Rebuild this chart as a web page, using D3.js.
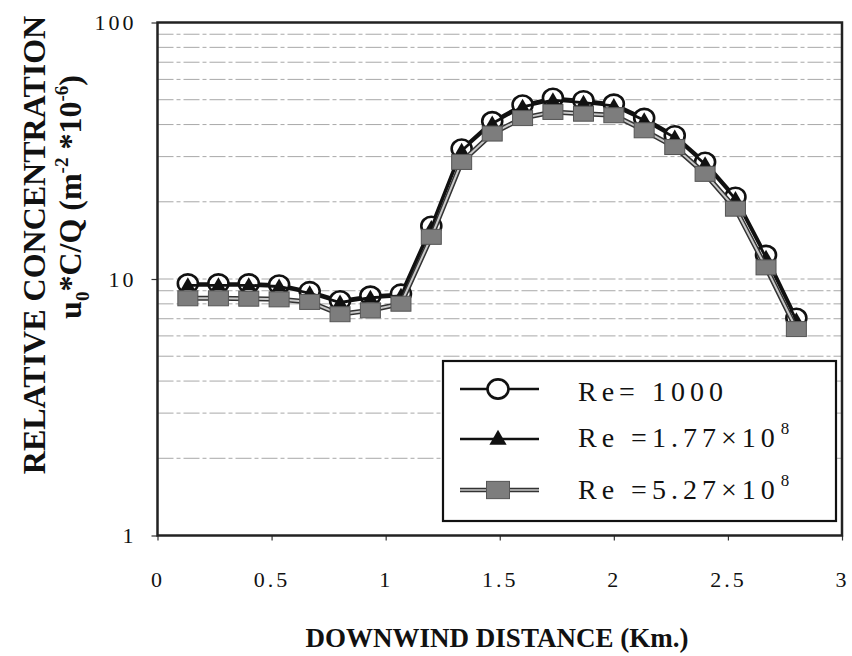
<!DOCTYPE html>
<html>
<head>
<meta charset="utf-8">
<script src="https://cdn.jsdelivr.net/npm/d3@7"></script>
<style>
  html, body { margin: 0; padding: 0; background: #fff; }
  svg { display: block; }
  text { font-family: "Liberation Serif", "Times New Roman", serif; fill: #111; }
</style>
</head>
<body>
<svg id="chart" width="852" height="656"></svg>
<script>
// ---------------- DATA ----------------
const distances = [0.133,0.267,0.4,0.533,0.667,0.8,0.933,1.067,1.2,1.333,1.467,1.6,1.733,1.867,2.0,2.133,2.267,2.4,2.533,2.667,2.8];
const re1000   = [9.6,9.6,9.6,9.5,8.95,8.25,8.6,8.75,16.1,32.2,41.2,47.8,50.8,49.7,48.2,42.4,36.3,28.6,20.9,12.4,7.05];
const re177e8  = [9.45,9.45,9.45,9.35,8.8,8.1,8.45,8.6,15.8,31.6,40.4,46.9,49.8,48.7,47.3,41.6,35.6,28.0,20.5,12.1,6.9];
const re527e8  = [8.41,8.41,8.38,8.33,8.14,7.29,7.55,8.01,14.6,28.6,36.9,42.4,44.8,44.1,43.5,38.0,32.7,25.7,18.8,11.1,6.38];
const xTicks = [0,0.5,1,1.5,2,2.5,3];
const xTickLabels = ["0","0.5","1","1.5","2","2.5","3"];
const yTicks = [1,10,100];
const yTickLabels = ["1","10","100"];
const gridValues = [2,3,4,5,6,7,8,9,10,20,30,40,50,60,70,80,90];
const legendLabels = [
  {pre:"Re= 1000", sup:""},
  {pre:"Re =1.77\u00d710", sup:"8"},
  {pre:"Re =5.27\u00d710", sup:"8"}
];

// ---------------- LAYOUT ----------------
const svg = d3.select("#chart");
const L = 157.5, R = 842, T = 22.5, B = 535.5;
const x = d3.scaleLinear().domain([0,3]).range([L,R]);
const y = d3.scaleLog().domain([1,100]).range([B,T]);

// grid
svg.append("g").selectAll("line").data(gridValues).join("line")
  .attr("x1", L).attr("x2", R)
  .attr("y1", d => y(d)).attr("y2", d => y(d))
  .attr("stroke", "#a8a8a8").attr("stroke-width", 1)
  .attr("stroke-dasharray", "16,3,4,3");

// axes
const xAxis = d3.axisBottom(x).tickValues(xTicks)
  .tickFormat((d,i) => xTickLabels[i]).tickSize(5).tickPadding(31);
const gx = svg.append("g").attr("transform", `translate(0,${B})`).call(xAxis);
gx.select(".domain").remove();
gx.selectAll("line").attr("stroke", "#333").attr("stroke-width", 1.2);
gx.selectAll("text").attr("font-size", 22).attr("letter-spacing", "3px").attr("fill", "#111");

const yAxis = d3.axisLeft(y).tickValues(yTicks)
  .tickFormat((d,i) => yTickLabels[i]).tickSize(6).tickPadding(15);
const gy = svg.append("g").attr("transform", `translate(${L},0)`).call(yAxis);
gy.select(".domain").remove();
gy.selectAll("line").attr("stroke", "#333").attr("stroke-width", 1.2);
gy.selectAll("text").attr("font-size", 22).attr("letter-spacing", "3px").attr("fill", "#111");

// frame
svg.append("rect").attr("x", L).attr("y", T).attr("width", R-L).attr("height", B-T)
  .attr("fill", "none").attr("stroke", "#222").attr("stroke-width", 2.5);

// series
const series = [
  {vals: re1000, kind: "circle"},
  {vals: re177e8, kind: "triangle"},
  {vals: re527e8, kind: "square"}
];
const line = d3.line().x(d => x(d[0])).y(d => y(d[1]));
const triPath = "M0,-8L7.5,5L-7.5,5Z";

function drawMarker(g, kind, cx, cy, scale) {
  scale = scale || 1;
  if (kind === "circle") {
    g.append("ellipse").attr("cx", cx).attr("cy", cy).attr("rx", 10*scale).attr("ry", 9.2*scale)
      .attr("fill", "#fff").attr("stroke", "#111").attr("stroke-width", 2.6);
  } else if (kind === "triangle") {
    g.append("path").attr("d", triPath)
      .attr("transform", `translate(${cx},${cy}) scale(${scale})`)
      .attr("fill", "#111");
  } else {
    g.append("rect").attr("x", cx-10*scale).attr("y", cy-7.5*scale)
      .attr("width", 20*scale).attr("height", 15*scale)
      .attr("fill", "#7d7d7d").attr("stroke", "#555").attr("stroke-width", 1);
  }
}

series.forEach(s => {
  const pts = distances.map((d,i) => [d, s.vals[i]]);
  const g = svg.append("g");
  if (s.kind === "square") {
    g.append("path").attr("d", line(pts)).attr("fill", "none")
      .attr("stroke", "#333").attr("stroke-width", 5);
    g.append("path").attr("d", line(pts)).attr("fill", "none")
      .attr("stroke", "#c8c8c8").attr("stroke-width", 2);
  } else {
    g.append("path").attr("d", line(pts)).attr("fill", "none")
      .attr("stroke", "#111").attr("stroke-width", 2.8);
  }
  pts.forEach(p => drawMarker(g, s.kind, x(p[0]), y(p[1])));
});

// legend
const lg = svg.append("g");
lg.append("rect").attr("x", 443).attr("y", 361).attr("width", 393).attr("height", 160)
  .attr("fill", "#fff").attr("stroke", "#111").attr("stroke-width", 2.2);
const rowY = [389, 439, 490];
const baseY = [401, 447, 499];
series.forEach((s,i) => {
  const cy = rowY[i];
  if (s.kind === "square") {
    lg.append("line").attr("x1", 460).attr("x2", 539).attr("y1", cy).attr("y2", cy)
      .attr("stroke", "#333").attr("stroke-width", 4.5);
    lg.append("line").attr("x1", 460).attr("x2", 539).attr("y1", cy).attr("y2", cy)
      .attr("stroke", "#c8c8c8").attr("stroke-width", 1.6);
  } else {
    lg.append("line").attr("x1", 460).attr("x2", 539).attr("y1", cy).attr("y2", cy)
      .attr("stroke", "#111").attr("stroke-width", 2.4);
  }
  drawMarker(lg, s.kind, 498, cy, s.kind === "circle" ? 1.05 : 1.15);
  const t = lg.append("text").attr("x", 578).attr("y", baseY[i])
    .attr("font-size", 28).attr("letter-spacing", "5px");
  t.append("tspan").text(legendLabels[i].pre);
  if (legendLabels[i].sup) {
    t.append("tspan").attr("dx", 1).attr("dy", -13).attr("font-size", 17).text(legendLabels[i].sup);
  }
});

// axis titles
svg.append("text").attr("x", 497).attr("y", 647).attr("text-anchor", "middle")
  .attr("font-size", 27).attr("font-weight", "bold").text("DOWNWIND DISTANCE (Km.)");

svg.append("text").attr("transform", "translate(45,245) rotate(-90)")
  .attr("text-anchor", "middle").attr("font-size", 32).attr("font-weight", "bold")
  .text("RELATIVE CONCENTRATION");

const t2 = svg.append("text").attr("transform", "translate(81,197) rotate(-90)")
  .attr("text-anchor", "middle").attr("font-size", 32).attr("font-weight", "bold");
t2.append("tspan").text("u");
t2.append("tspan").attr("dy", 8).attr("font-size", 19).text("0");
t2.append("tspan").attr("dy", -8).text("*C/Q (m");
t2.append("tspan").attr("dy", -13).attr("font-size", 19).text("-2");
t2.append("tspan").attr("dy", 13).text(" *10");
t2.append("tspan").attr("dy", -13).attr("font-size", 19).text("-6");
t2.append("tspan").attr("dy", 13).text(")");
</script>
</body>
</html>
